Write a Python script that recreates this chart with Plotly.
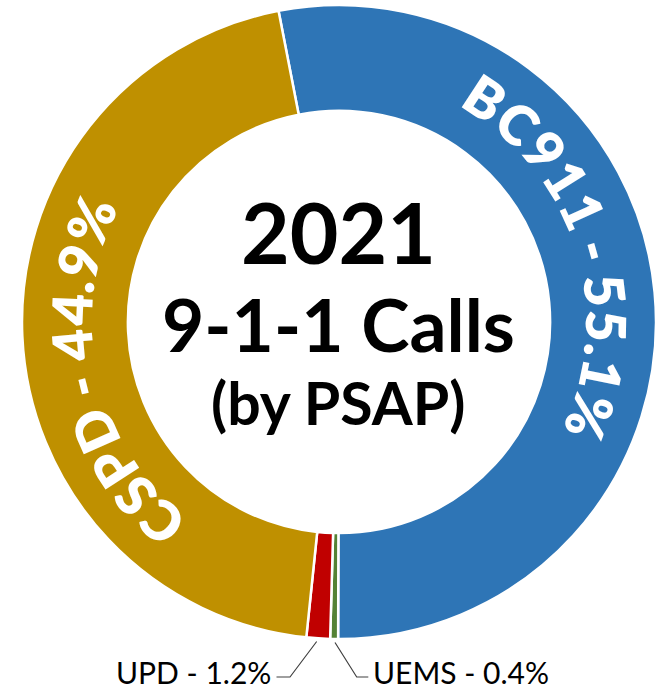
import math
import plotly.graph_objects as go

W, H = 661, 692

# Data (clockwise from the top)
labels = ["BC911", "UEMS", "UPD", "CSPD"]
values = [53.1, 0.4, 1.2, 45.3]          # slice shares as drawn
pct_text = ["55.1%", "0.4%", "1.2%", "44.9%"]  # printed labels
colors = ["#2E75B6", "#548235", "#C00000", "#BF9000"]

title_lines = ["2021", "9-1-1 Calls", "(by PSAP)"]

FONT = "Lato"

# geometry of the ring (pixels)
CX, CY, R_OUT, HOLE = 339, 322, 317, 0.666


def px(x):
    return x / W


def py(y):
    return 1 - y / H


fig = go.Figure()
fig.add_trace(go.Pie(
    labels=labels,
    values=values,
    hole=HOLE,
    sort=False,
    direction="clockwise",
    rotation=-11,
    marker=dict(colors=colors, line=dict(color="white", width=2.5)),
    textinfo="none",
    hoverinfo="label+percent",
    showlegend=False,
    domain=dict(x=[px(CX - R_OUT), px(CX + R_OUT)],
                y=[py(CY + R_OUT), py(CY - R_OUT)]),
))

# approximate Lato Bold advance widths (em)
ADV = {" ": 0.193, "%": 0.80, "-": 0.37, ".": 0.22, "B": 0.665, "C": 0.66,
       "D": 0.75, "P": 0.62, "S": 0.53}
for d in "0123456789":
    ADV[d] = 0.58


def arc_text(s, start_deg, size, r_center=268, r_adv=250, spacing=1.05):
    """Curved text along the ring, one character per annotation."""
    out = []
    w0 = ADV.get(s[0], 0.6)
    cum = 0.0
    for ch in s:
        w = ADV.get(ch, 0.6)
        c_em = cum + w / 2 - w0 / 2
        phi = start_deg + math.degrees(c_em * size * spacing / r_adv)
        cum += w
        if ch == " ":
            continue
        a = math.radians(phi)
        x = CX + r_center * math.sin(a)
        y = CY - r_center * math.cos(a)
        ang = ((phi + 180) % 360) - 180
        out.append(dict(
            x=px(x), y=py(y), xref="paper", yref="paper", text=ch,
            showarrow=False, textangle=ang,
            font=dict(family=FONT, size=size, color="white", weight=800),
            xanchor="center", yanchor="middle"))
    return out


annotations = []
annotations += arc_text(f"{labels[0]} - {pct_text[0]}", 33.2, 55)
annotations += arc_text(f"{labels[3]} - {pct_text[3]}", 221.5, 55)

# centre title
for txt, yy, sz in zip(title_lines, [232, 324, 402], [84, 73, 59]):
    annotations.append(dict(
        x=px(338), y=py(yy), xref="paper", yref="paper", text=txt,
        showarrow=False,
        font=dict(family=FONT, size=sz, color="black", weight="bold"),
        xanchor="center", yanchor="middle"))

# small outside labels
annotations.append(dict(
    x=px(273), y=py(672), xref="paper", yref="paper",
    text=f"{labels[2]} - {pct_text[2]}", showarrow=False,
    font=dict(family=FONT, size=30, color="black"),
    xanchor="right", yanchor="middle"))
annotations.append(dict(
    x=px(371), y=py(672), xref="paper", yref="paper",
    text=f"{labels[1]} - {pct_text[1]}", showarrow=False,
    font=dict(family=FONT, size=30, color="black"),
    xanchor="left", yanchor="middle"))

shapes = [
    dict(type="path", xref="paper", yref="paper",
         path=f"M {px(316.7)} {py(641.5)} L {px(290)} {py(677)} L {px(276.5)} {py(677)}",
         line=dict(color="#404040", width=1.2)),
    dict(type="path", xref="paper", yref="paper",
         path=f"M {px(335)} {py(642.5)} L {px(356.7)} {py(677)} L {px(368.3)} {py(677)}",
         line=dict(color="#404040", width=1.2)),
]

fig.update_layout(
    width=W, height=H,
    margin=dict(l=0, r=0, t=0, b=0),
    paper_bgcolor="white", plot_bgcolor="white",
    annotations=annotations, shapes=shapes,
)

fig.write_html("out.html")
